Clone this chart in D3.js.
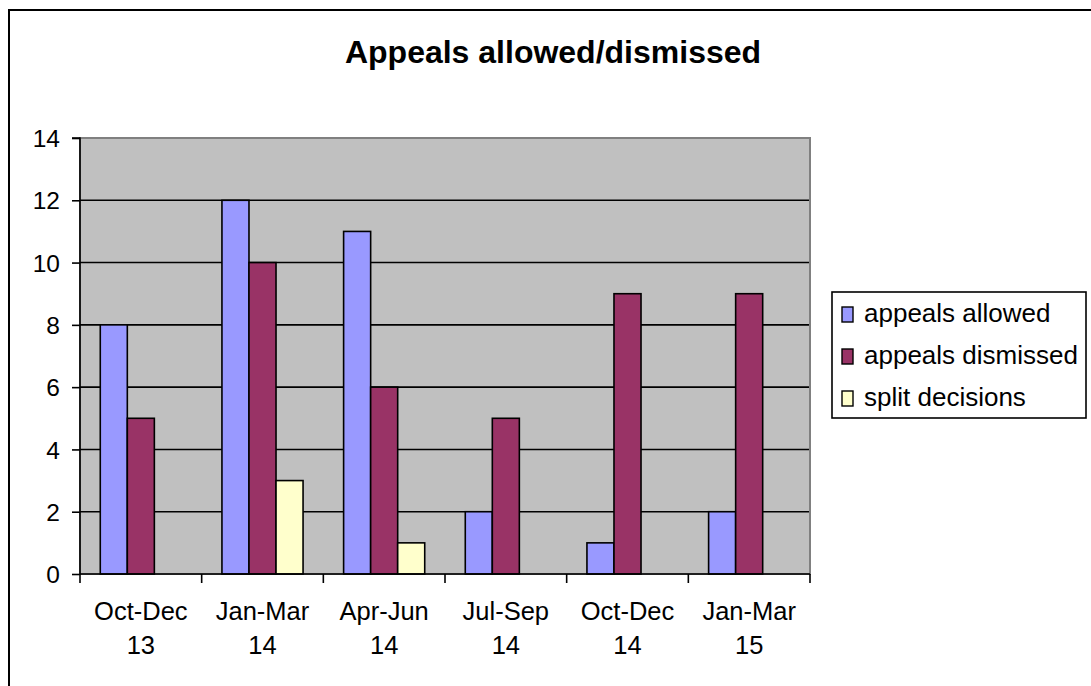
<!DOCTYPE html>
<html><head><meta charset="utf-8">
<script src="https://cdn.jsdelivr.net/npm/d3@7"></script>
<style>body{margin:0;background:#fff}svg{display:block;font-family:"Liberation Sans",Arial,sans-serif}</style>
</head><body><svg id="c" width="1091" height="686"></svg>
<script>
const categories = [["Oct-Dec","13"],["Jan-Mar","14"],["Apr-Jun","14"],["Jul-Sep","14"],["Oct-Dec","14"],["Jan-Mar","15"]];
const seriesNames = ["appeals allowed","appeals dismissed","split decisions"];
const allowed = [8,12,11,2,1,2];
const dismissed = [5,10,6,5,9,9];
const split = [0,3,1,0,0,0];
const yTicks = [0,2,4,6,8,10,12,14];
const colors = ["#9999FF","#993366","#FFFFCC"];
const seriesValues = [allowed, dismissed, split];

const svg = d3.select("#c");
svg.append("rect").attr("x",9).attr("y",10).attr("width",1200).attr("height",800)
  .attr("fill","#fff").attr("stroke","#000").attr("stroke-width",2);

const L=80,R=810,T=138,B=574;
const catKeys = categories.map((d,i)=>i);
const x0 = d3.scaleBand().domain(catKeys).range([L,R]).padding(0);
const bw = x0.bandwidth();
const gap = bw*1.5/4.5;
const x1 = d3.scaleBand().domain([0,1,2]).range([gap/2, bw-gap/2]).padding(0);
const y = d3.scaleLinear().domain([0,14]).range([B,T]);

svg.append("rect").attr("x",L).attr("y",T).attr("width",R-L).attr("height",B-T)
  .attr("fill","#C0C0C0").attr("stroke","#808080").attr("stroke-width",2);

svg.append("g").selectAll("line").data(yTicks.filter(v=>v>0 && v<14)).join("line")
  .attr("x1",L).attr("x2",R-1).attr("y1",d=>y(d)).attr("y2",d=>y(d))
  .attr("stroke","#000").attr("stroke-width",1.6);

const g = svg.append("g");
seriesValues.forEach((vals,s)=>{
  g.selectAll(null).data(vals.map((v,i)=>({v,i}))).join("rect")
   .filter(d=>d.v>0)
   .attr("x",d=>x0(d.i)+x1(s)).attr("width",x1.bandwidth())
   .attr("y",d=>y(d.v)).attr("height",d=>y(0)-y(d.v))
   .attr("fill",colors[s]).attr("stroke","#000").attr("stroke-width",1.6);
});

// y axis
const ya = svg.append("g").attr("transform",`translate(${L},0)`)
  .call(d3.axisLeft(y).tickValues(yTicks).tickSize(8).tickPadding(12));
ya.select(".domain").attr("stroke","#000").attr("stroke-width",1.6).attr("d",`M-8,${T}H0V${B}`);
ya.selectAll(".tick line").attr("stroke","#000").attr("stroke-width",1.6);
ya.selectAll("text").attr("font-size",24.5).attr("fill","#000").attr("font-family","Liberation Sans, Arial, sans-serif").attr("dy","0.35em");

// x axis
svg.append("line").attr("x1",L).attr("x2",R).attr("y1",B).attr("y2",B).attr("stroke","#000").attr("stroke-width",1.6);
const xt = catKeys.map(i=>x0(i)).concat([R]);
svg.append("g").selectAll("line").data(xt).join("line")
  .attr("x1",d=>d).attr("x2",d=>d).attr("y1",B).attr("y2",B+9).attr("stroke","#000").attr("stroke-width",1.6);
const lab = svg.append("g").selectAll("text").data(categories.map((c,i)=>({c,i}))).join("text")
  .attr("text-anchor","middle").attr("font-size",25.5).attr("fill","#000");
lab.append("tspan").attr("x",d=>x0(d.i)+bw/2).attr("y",620).text(d=>d.c[0]);
lab.append("tspan").attr("x",d=>x0(d.i)+bw/2).attr("y",654).text(d=>d.c[1]);

// title
svg.append("text").attr("x",553).attr("y",63).attr("text-anchor","middle")
  .attr("font-size",32).attr("font-weight","bold").text("Appeals allowed/dismissed");

// legend
const lg = svg.append("g");
lg.append("rect").attr("x",832).attr("y",292).attr("width",254).attr("height",126)
  .attr("fill","#fff").attr("stroke","#000").attr("stroke-width",1.6);
seriesNames.forEach((n,i)=>{
  const cy = 314 + i*42;
  lg.append("rect").attr("x",842).attr("y",cy-7).attr("width",11).attr("height",15)
    .attr("fill",colors[i]).attr("stroke","#000").attr("stroke-width",1.4);
  lg.append("text").attr("x",864).attr("y",cy+8).attr("font-size",26).attr("fill","#000").text(n);
});
</script></body></html>
